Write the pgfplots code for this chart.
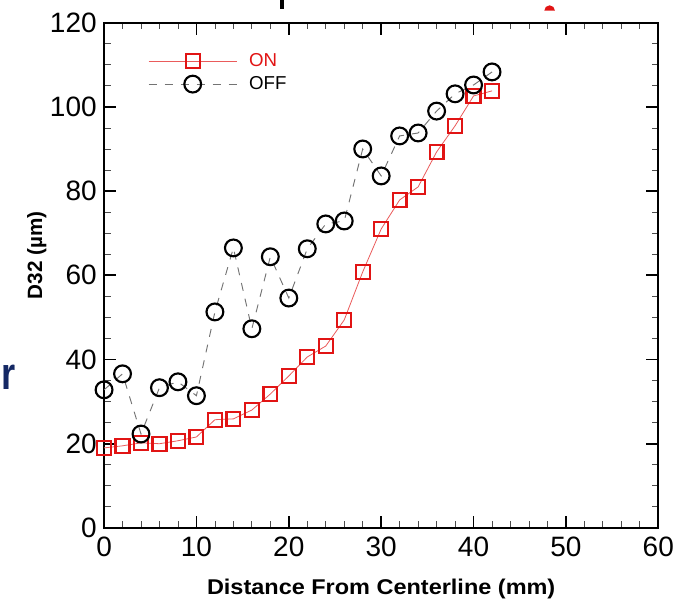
\documentclass[border=0pt]{standalone}
\usepackage{fontspec}
\setmainfont{Liberation Sans}
\newfontfamily\widesans[FakeStretch=1.1]{Liberation Sans}
\usepackage{pgfplots}
\pgfplotsset{compat=1.18}
\definecolor{onred}{RGB}{225,20,20}
\definecolor{navy}{RGB}{20,40,100}
\begin{document}
\begin{tikzpicture}
\begin{axis}[
  scale only axis,
  width=415.5pt, height=378.75pt,
  xmin=0, xmax=60, ymin=0, ymax=120,
  xtick={0,10,...,60}, ytick={0,20,...,120},
  minor x tick num=4, minor y tick num=3,
  tick align=inside, tick pos=both,
  major tick length=9pt, minor tick length=5pt,
  every tick/.style={black, line width=1.2pt},
  minor tick style={line width=0.6pt, black!70},
  axis line style={line width=1.6pt},
  /pgf/number format/assume math mode=true,
  tick label style={font=\fontsize{21}{23}\selectfont},
  xticklabel style={yshift=-3pt},
  yticklabel style={xshift=-2pt},
  xlabel={\bfseries Distance From Centerline (mm)},
  ylabel={\bfseries D32 (µm)},
  xlabel style={font=\widesans\fontsize{16}{18}\selectfont, at={(axis description cs:0.5,0)}, anchor=base, yshift=-50pt},
  ylabel style={font=\fontsize{15.5}{17}\selectfont, at={(axis description cs:0,0.5)}, anchor=base, yshift=46.5pt, xshift=15pt},
  legend style={draw=none, fill=none, at={(rel axis cs:0.072,0.95)}, anchor=north west,
    font=\fontsize{14}{16}\selectfont, row sep=2pt},
  legend cell align=left,
  legend image code/.code={\draw[mark repeat=2,mark phase=2,#1] plot coordinates {(0pt,0pt) (33pt,0pt) (66pt,0pt)};},
]
\addplot[onred!70, line width=0.6pt, mark=square, mark size=5.2pt,
  mark options={draw=onred, line width=1.7pt, solid}] coordinates {
(0,19) (2,19.5) (4,20.2) (6,20) (8,20.7) (10,21.6) (12,25.7) (14,25.9) (16,28)
(18,31.8) (20,36.1) (22,40.6) (24,43.2) (26,49.4) (28,60.8) (30,71) (32,77.9)
(34,81) (36,89.3) (38,95.5) (40,102.6) (42,103.8)};
\addlegendentry{\hspace{7pt}\textcolor{onred}{ON}}
\addplot[black!55, line width=0.7pt, dash pattern=on 6pt off 6pt, mark=o, mark size=6.3pt,
  mark options={draw=black, line width=1.6pt, solid}] coordinates {
(0,32.8) (2,36.6) (4,22.3) (6,33.3) (8,34.7) (10,31.4) (12,51.3) (14,66.5) (16,47.3)
(18,64.4) (20,54.6) (22,66.3) (24,72.2) (26,72.9) (28,90) (30,83.6) (32,93.1)
(34,93.8) (36,99) (38,103.1) (40,105.2) (42,108.3)};
\addlegendentry{\hspace{7pt}OFF}
\end{axis}
\node[anchor=base west, text=navy, font=\bfseries\fontsize{34}{36}\selectfont, inner sep=0pt]
  at ([shift={(-77pt,104pt)}]current axis.south west) {\scalebox{0.8}[1]{r}};
\fill[black] ([shift={(132pt,10pt)}]current axis.north west) rectangle ++(3pt,7pt);
\fill[onred] ([shift={(330pt,9pt)}]current axis.north west) arc[start angle=180,end angle=0,radius=4pt] -- cycle;
\pgfresetboundingbox
\useasboundingbox ([shift={(-78pt,-53pt)}]current axis.south west) rectangle ([shift={(20pt,17pt)}]current axis.north east);
\end{tikzpicture}
\end{document}
